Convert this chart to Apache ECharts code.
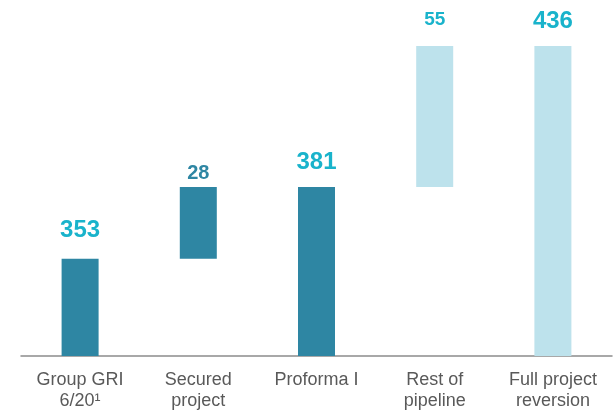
<!DOCTYPE html>
<html>
<head>
<meta charset="utf-8">
<script src="https://cdn.jsdelivr.net/npm/echarts@6/dist/echarts.min.js"></script>
<style>
  html, body { margin: 0; padding: 0; background: #fff; }
  #chart { width: 613px; height: 412px; }
</style>
</head>
<body>
<div id="chart"></div>
<script>
// categories and values (waterfall)
const categories = ["Group GRI\n6/20¹", "Secured\nproject", "Proforma I", "Rest of\npipeline", "Full project\nreversion"];
const offsets = [0, 353, 0, 381, 0];        // invisible base of each step
const steps = [353, 28, 381, 55, 436];      // visible part, also the label
const isTotal = [true, false, true, false, true];
const isFuture = [false, false, false, true, true];

const DARK = "#2E86A3";
const LIGHT = "#BDE2EC";
const CYAN = "#19B3CB";

const chart = echarts.init(document.getElementById("chart"));

const visible = steps.map((v, i) => ({
  value: v,
  itemStyle: { color: isFuture[i] ? LIGHT : DARK },
  label: {
    color: i === 1 ? DARK : CYAN,
    fontSize: isTotal[i] ? 24 : (i === 1 ? 20 : 19),
    distance: i === 0 ? 16 : (i === 1 ? 3 : (i === 3 ? 17 : 13)),
  },
}));

chart.setOption({
  animation: false,
  grid: { left: 21, right: 1, top: 46, bottom: 52 },
  xAxis: {
    type: "category",
    data: categories,
    axisTick: { show: false },
    axisLine: { lineStyle: { color: "#8C8C8C", width: 1.5 } },
    axisLabel: {
      color: "#595959",
      fontSize: 18,
      lineHeight: 21,
      fontFamily: "Liberation Sans, Arial, sans-serif",
      margin: 14,
      interval: 0,
    },
  },
  yAxis: {
    type: "value",
    min: 315,
    max: 436,
    show: false,
  },
  series: [
    {
      type: "bar",
      stack: "wf",
      data: offsets,
      barWidth: 37,
      itemStyle: { color: "rgba(0,0,0,0)" },
      silent: true,
    },
    {
      type: "bar",
      stack: "wf",
      data: visible,
      barWidth: 37,
      label: {
        show: true,
        position: "top",
        fontWeight: "bold",
        fontFamily: "Liberation Sans Narrow, Liberation Sans, Arial, sans-serif",
      },
    },
  ],
});
</script>
</body>
</html>
